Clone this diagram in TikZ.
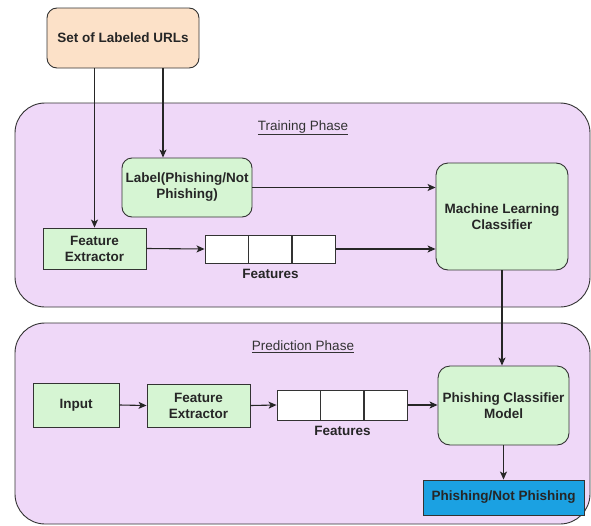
\documentclass[tikz,border=0pt]{standalone}
\usepackage{fontspec}
\setmainfont{Liberation Sans}
\usetikzlibrary{shapes,arrows,arrows.meta,calc,fit,positioning}

\definecolor{peach}{HTML}{FCE1C8}
\definecolor{lilac}{HTML}{EFD8F8}
\definecolor{mint}{HTML}{D6F5D3}
\definecolor{sky}{HTML}{1BA1E2}
\definecolor{edge}{HTML}{333333}

\begin{document}
\begin{tikzpicture}[
  x=1pt, y=-1pt,
  phase/.style={draw=edge, fill=lilac, rounded corners=30pt, line width=0.9pt},
  title/.style={text=edge, font=\fontsize{13.5}{16}\selectfont},
  block/.style={rectangle, draw=edge, fill=mint, line width=0.9pt, align=center,
    text=black!85, font=\bfseries\fontsize{13.5}{16}\selectfont, inner sep=1pt},
  soft/.style={block, rounded corners=10pt},
  cell/.style={rectangle, draw=edge, fill=white, line width=0.9pt, minimum width=43pt},
  link/.style={line width=1.1pt, black!85, -{Stealth[length=8pt,width=7pt,inset=2pt]}}
  ]
  \useasboundingbox (0,0) rectangle (591,525);

  % the two phases
  \node[phase, minimum width=575pt, minimum height=204pt] (Train) at (302.5,205) {};
  \node[phase, minimum width=575pt, minimum height=201pt] (Pred) at (302.5,423.5) {};
  \node[title] (TrainT) at (303,128) {\underline{Training Phase}};
  \node[title] (PredT) at (303,347) {\underline{Prediction Phase}};

  % training
  \node[soft, fill=peach, minimum width=152pt, minimum height=60pt] (URLs) at (123,38) {Set of Labeled URLs};
  \node[soft, minimum width=130pt, minimum height=59pt] (Label) at (187,187.5) {Label(Phishing/Not\\Phishing)};
  \node[block, minimum width=103pt, minimum height=41pt] (FEa) at (94.5,248.5) {Feature\\Extractor};
  \node[cell, minimum height=28pt] (Fa1) at (226.5,249) {};
  \node[cell, minimum height=28pt, right=0pt of Fa1] (Fa2) {};
  \node[cell, minimum height=28pt, right=0pt of Fa2] (Fa3) {};
  \node[block, draw=none, fill=none, below=4pt of Fa2] (FaT) {Features};
  \node[soft, rounded corners=12pt, minimum width=132pt, minimum height=107pt] (MLC) at (502,216.5) {Machine Learning\\Classifier};

  % prediction
  \node[block, minimum width=86pt, minimum height=44pt] (Input) at (76,405) {Input};
  \node[block, minimum width=103pt, minimum height=43pt] (FEb) at (198.5,405.5) {Feature\\Extractor};
  \node[cell, minimum height=30pt] (Fb1) at (298.5,405) {};
  \node[cell, minimum height=30pt, right=0pt of Fb1] (Fb2) {};
  \node[cell, minimum height=30pt, right=0pt of Fb2] (Fb3) {};
  \node[block, draw=none, fill=none, below=4pt of Fb2] (FbT) {Features};
  \node[soft, rounded corners=12pt, minimum width=131pt, minimum height=79pt] (PCM) at (503.5,405.5) {Phishing Classifier\\Model};
  \node[block, fill=sky, minimum width=161pt, minimum height=35pt] (Out) at (503.5,497.5) {Phishing/Not Phishing};

  \draw[link] (URLs.south -| FEa.north) -- (FEa.north);
  \draw[link] ([xshift=40pt]URLs.south) -- ([xshift=40pt]URLs.south |- Label.north);
  \draw[link] (Label.east) -- (Label.east -| MLC.west);
  \draw[link] (FEa.east) -- (Fa1.west);
  \draw[link] (Fa3.east) -- (Fa3.east -| MLC.west);
  \draw[link] (MLC.south) -- (MLC.south |- PCM.north);

  \draw[link] (Input.east) -- (FEb.west);
  \draw[link] (FEb.east) -- (Fb1.west);
  \draw[link] (Fb3.east) -- (Fb3.east -| PCM.west);
  \draw[link] (PCM.south) -- (Out.north);

\end{tikzpicture}
\end{document}
